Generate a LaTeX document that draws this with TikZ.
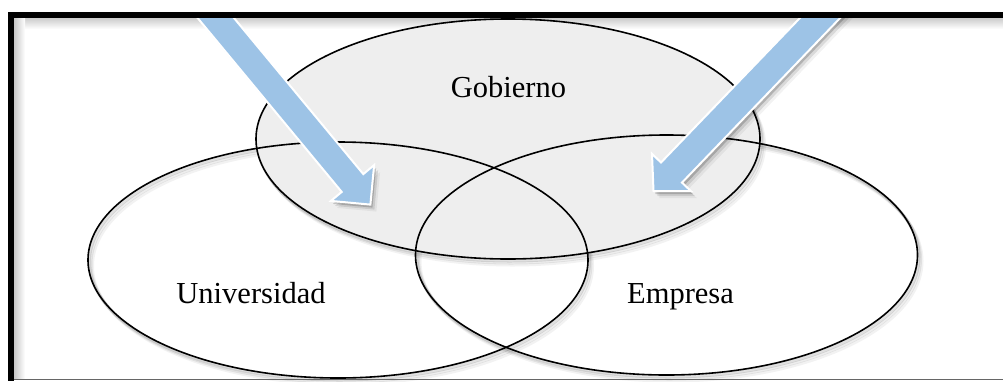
\documentclass[tikz,border=0pt]{standalone}
\usepackage{fontspec}
\setmainfont{Liberation Serif}
\usetikzlibrary{calc}
\definecolor{arrowblue}{RGB}{157,195,230}
\definecolor{govgray}{RGB}{238,238,238}
\tikzset{
  setring/.style={draw=black, line width=1.6pt},
  ringshadow/.style={draw=black, line width=3pt},
  bigarrow/.style={fill=arrowblue, draw=white, line width=2pt, line join=miter},
  arrowshadow/.style={fill=black},
  label/.style={font=\fontsize{30.5}{34}\selectfont, inner sep=0pt, text=black}
}
\begin{document}
\begin{tikzpicture}[x=1pt,y=-1pt]
\useasboundingbox (0,0) rectangle (1003,381);
\fill[white] (0,0) rectangle (1003,381);
% frame inner shadow
\shade[top color=black!22, bottom color=white] (14,17) rectangle (1003,29);
\shade[left color=black!22, right color=white] (14,17) rectangle (25,379);
% ellipse centres
\coordinate (gobc) at (508,139);
\coordinate (univc) at (338,260);
\coordinate (empc) at (666.5,255);
% soft shadows of the rings
\foreach \dx/\dy/\op in {1.5/2/0.12, 3/4/0.07, 4.5/6/0.05}{
  \draw[ringshadow, opacity=\op] ($(univc)+(\dx,\dy)$) ellipse [x radius=250pt, y radius=118pt];
  \draw[ringshadow, opacity=\op] ($(empc)+(\dx,\dy)$) ellipse [x radius=251pt, y radius=120pt];
  \draw[ringshadow, opacity=\op] ($(gobc)+(\dx,\dy)$) ellipse [x radius=252pt, y radius=120pt];
}
% government fill
\fill[govgray] (gobc) ellipse [x radius=252pt, y radius=120pt];
% outlines
\draw[setring] (univc) ellipse [x radius=250pt, y radius=118pt];
\draw[setring] (empc) ellipse [x radius=251pt, y radius=120pt];
\draw[setring] (gobc) ellipse [x radius=252pt, y radius=120pt];
% arrows
\begin{scope}
\clip (14,17) rectangle (1003,381);
\foreach \dx/\dy/\op in {2/3/0.18, 4/5/0.10, 6/7/0.05}{
  \fill[arrowshadow, opacity=\op, shift={(\dx,\dy)}]
    (188.6,7.1) -- (341.7,191.9) -- (330.9,200.9) -- (370.4,204.6) -- (374.1,165.1) -- (363.3,174.1) -- (210.2,-10.7) -- cycle;
  \fill[arrowshadow, opacity=\op, shift={(\dx,\dy)}]
    (848.3,9.5) -- (682,182.6) -- (691,191.2) -- (653.5,191.2) -- (652,153.8) -- (661,162.5) -- (827.4,-10.6) -- cycle;
}
\filldraw[bigarrow] (188.6,7.1) -- (341.7,191.9) -- (330.9,200.9) -- (370.4,204.6) -- (374.1,165.1) -- (363.3,174.1) -- (210.2,-10.7) -- cycle;
\filldraw[bigarrow] (848.3,9.5) -- (682,182.6) -- (691,191.2) -- (653.5,191.2) -- (652,153.8) -- (661,162.5) -- (827.4,-10.6) -- cycle;
\end{scope}
% frame
\fill[black] (8,12) rectangle (1003,17.5);
\fill[black] (8,12) rectangle (14,381);
\draw[black!60, line width=1.5pt] (14,379.5) -- (1003,379.5);
% labels
\node[label, anchor=base] (gob) at (508.5,97) {Gobierno};
\node[label, anchor=base] (univ) at (251,303) {Universidad};
\node[label, anchor=base] (emp) at (680.5,303) {Empresa};
\end{tikzpicture}
\end{document}
